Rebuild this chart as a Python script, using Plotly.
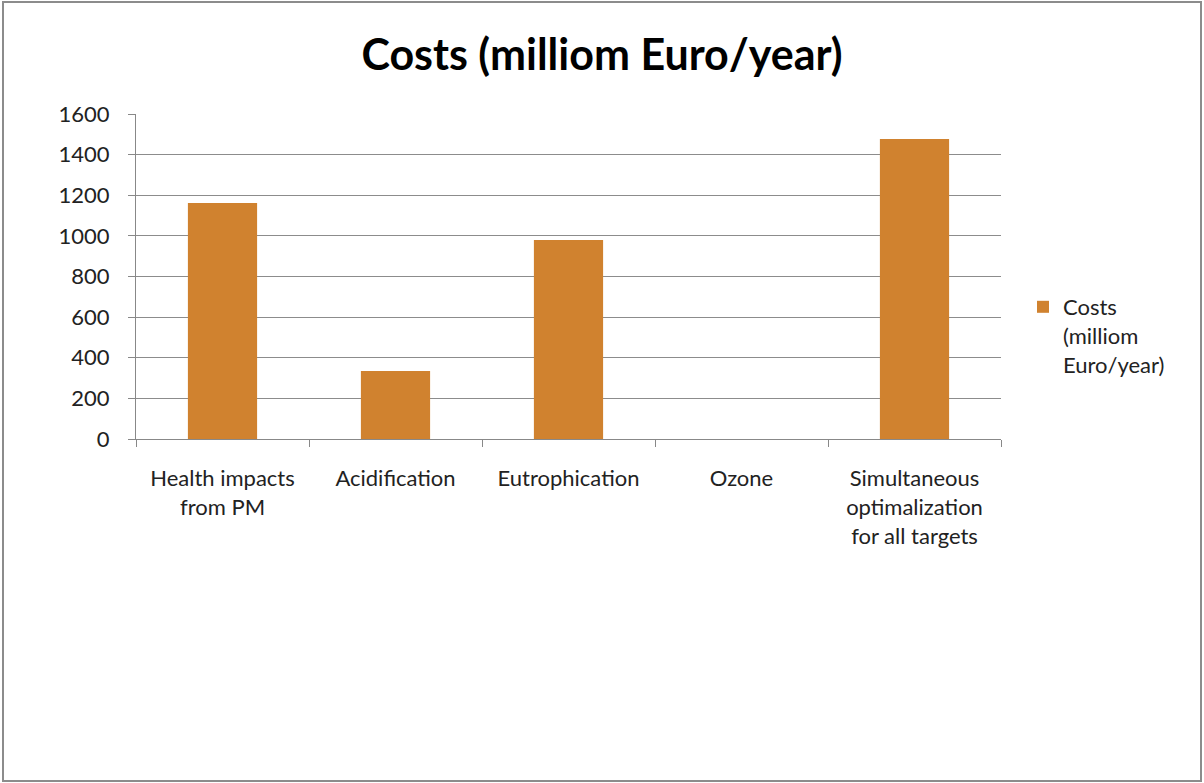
import plotly.graph_objects as go

categories = ["Health impacts<br>from PM", "Acidification", "Eutrophication", "Ozone",
              "Simultaneous<br>optimalization<br>for all targets"]
costs = [1162, 335, 980, 0, 1477]
series_name = "Costs<br>(milliom<br>Euro/year)"
y_ticks = [0, 200, 400, 600, 800, 1000, 1200, 1400, 1600]

W, H = 1204, 783
L, R, T, B = 136, 203, 114, 344
pw, ph = W - L - R, H - T - B
FONT = "Lato, Open Sans, sans-serif"

fig = go.Figure()
fig.add_trace(go.Bar(
    x=categories, y=costs, name=series_name,
    marker=dict(color="#D0822F", line=dict(width=0)),
    showlegend=True,
))

fig.update_layout(
    width=W, height=H,
    margin=dict(l=L, r=R, t=T, b=B),
    paper_bgcolor="white", plot_bgcolor="white",
    font=dict(family=FONT, size=22, color="#222222"),
    title=dict(text="<b>Costs (milliom Euro/year)</b>", x=0.5, xanchor="center",
               y=1 - 55 / H, yanchor="middle",
               font=dict(size=43, color="#000000", family=FONT)),
    bargap=0.6,
    showlegend=True,
    legend=dict(x=(1023 - L) / pw, y=(439 - 286) / ph, xanchor="left", yanchor="top",
                valign="top", font=dict(size=22), bgcolor="rgba(0,0,0,0)",
                itemsizing="constant"),
    xaxis=dict(showline=True, linecolor="#888888", linewidth=1, ticks="outside",
               tickson="boundaries", ticklen=7, tickcolor="#888888",
               ticklabelstandoff=20,
               showgrid=False, tickfont=dict(size=22)),
    yaxis=dict(range=[0, 1600], tickvals=y_ticks, showgrid=True, gridcolor="#8C8C8C",
               gridwidth=1, showline=True, linecolor="#888888", ticks="outside",
               ticklen=7, tickcolor="#888888", zeroline=False,
               ticklabelstandoff=14, tickfont=dict(size=22)),
)

# outer chart frame
fig.add_shape(type="rect", xref="paper", yref="paper",
              x0=(3 - L) / pw, x1=(1201 - L) / pw,
              y0=(439 - 781) / ph, y1=(439 - 2) / ph,
              line=dict(color="#8C8C8C", width=2), layer="below")

fig.write_html("out.html", config={"displayModeBar": False},
               post_script="document.body.style.margin='0';")
